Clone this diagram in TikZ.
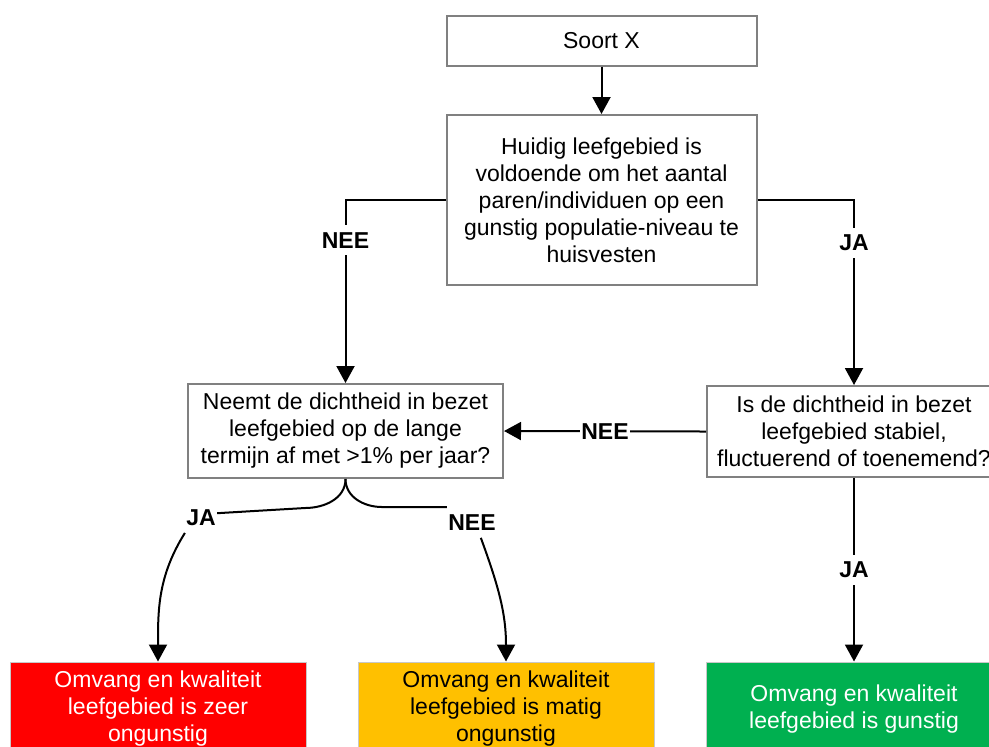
\documentclass[tikz,border=0pt]{standalone}
\usepackage{fontspec}
\setmainfont{Liberation Sans}
\usepackage{tikz}
\usetikzlibrary{arrows.meta}
\definecolor{boxgray}{RGB}{128,128,128}
\definecolor{edgegray}{RGB}{200,200,200}
\definecolor{zeerred}{RGB}{255,0,0}
\definecolor{matigyellow}{RGB}{255,192,0}
\definecolor{gunstiggreen}{RGB}{0,176,80}

\begin{document}
\begin{tikzpicture}[x=0.5pt,y=0.5pt,>={Triangle[length=8.5pt,width=9pt]},
    font=\fontsize{11.5}{13.5}\selectfont,
    vak/.style={draw=boxgray, line width=1pt, fill=white, align=center, inner sep=0pt},
    uitkomst/.style={draw=edgegray, line width=0.5pt, align=center, inner sep=0pt,
      minimum width=148pt, minimum height=47pt},
    lijn/.style={line width=1pt},
    antw/.style={fill=white, font=\fontsize{11.5}{13.5}\selectfont\bfseries,
      inner xsep=0.5pt, inner ysep=3.5pt}]
  \useasboundingbox (0,0) rectangle (989,-746);
  \clip (0,0) rectangle (989,-746);

  \node[vak, minimum width=155pt, minimum height=25pt] (soort) at (601.5,-40.5) {Soort X};
  \node[vak, minimum width=155pt, minimum height=85pt] (huidig) at (601.5,-200)
    {Huidig leefgebied is\\voldoende om het aantal\\paren/individuen op een\\gunstig populatie-niveau te\\huisvesten};
  \node[vak, minimum width=157.5pt, minimum height=47pt] (afname) at (345.5,-431)
    {Neemt de dichtheid in bezet\\leefgebied op de lange\\termijn af met >1\% per jaar?};
  \node[vak, minimum width=147pt, minimum height=45.5pt] (stabiel) at (854,-431.5)
    {Is de dichtheid in bezet\\leefgebied stabiel,\\fluctuerend of toenemend?};
  \node[uitkomst, fill=zeerred, text=white] (zeer) at (158,-709)
    {Omvang en kwaliteit\\leefgebied is zeer\\ongunstig};
  \node[uitkomst, fill=matigyellow] (matig) at (506,-709)
    {Omvang en kwaliteit\\leefgebied is matig\\ongunstig};
  \node[uitkomst, fill=gunstiggreen, text=white] (gunstig) at (854,-709)
    {Omvang en kwaliteit\\leefgebied is gunstig};

  \node[antw] (jaL) at (201,-517.5) {JA};
  \node[antw] (neeR) at (472,-522.5) {NEE};
  \coordinate (boogL) at (305,-508);
  \coordinate (boogR) at (382,-507);

  \draw[lijn,->] (soort) -- (huidig);
  \draw[lijn,->] (huidig.west) -| node[antw, pos=0.61] {NEE} (afname.north);
  \draw[lijn,->] (huidig.east) -| node[antw, pos=0.615] {JA} (stabiel.north);
  \draw[lijn,->] (stabiel.west) -- node[antw] {NEE} (afname.east);
  \draw[lijn,->] (stabiel.south) -- node[antw] {JA} (gunstig.north);

  \draw[lijn] (afname.south) to[out=-90,in=0] (boogL) -- (jaL.15);
  \draw[lijn,->] (jaL.south west) to[out=238,in=90] (zeer.north);
  \draw[lijn] (afname.south) to[out=-90,in=180] (boogR) -- (neeR.north west);
  \draw[lijn,->] (neeR.-60) to[out=-70,in=90] (matig.north);

\end{tikzpicture}
\end{document}
